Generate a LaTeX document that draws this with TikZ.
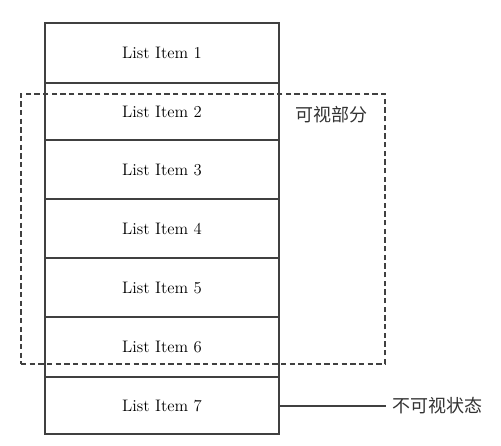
\documentclass[tikz,border=0pt]{standalone}
\usepackage{fontspec}
\newfontfamily\cjk{Noto Sans CJK SC}
\usetikzlibrary{positioning}

\begin{document}
\begin{tikzpicture}[
  x=0.75pt, y=-0.75pt,
  item/.style={rectangle, draw=black!75, line width=1.1pt, minimum width=175.5pt, align=center, font=\fontsize{12.5}{14}\selectfont, inner sep=0pt},
  view/.style={rectangle, draw=black!75, dashed, dash pattern=on 4pt off 2.5pt, line width=0.8pt, minimum width=273pt, minimum height=202.5pt, inner sep=0pt},
  note/.style={font=\cjk\fontsize{13.5}{15}\selectfont, text=black!80, inner sep=4.5pt},
  link/.style={draw=black!75, line width=0.8pt},
]
  \useasboundingbox (0,0) rectangle (501,446);

  % list rows
  \node[item, minimum height=45pt] (item1) at (162,53) {List Item 1};
  \node[item, minimum height=42.75pt] (item2) at (162,111.5) {List Item 2};
  \node[item, minimum height=44.25pt] (item3) at (162,169.5) {List Item 3};
  \node[item, minimum height=44.25pt] (item4) at (162,228.5) {List Item 4};
  \node[item, minimum height=44.25pt] (item5) at (162,287.5) {List Item 5};
  \node[item, minimum height=45pt] (item6) at (162,347) {List Item 6};
  \node[item, minimum height=42.75pt] (item7) at (162,405.5) {List Item 7};

  % visible window
  \node[view] (window) at (203,229) {};
  \node[note] (visible) at (331,115) {可视部分};

  % hidden row label
  \node[note, anchor=west] (hidden) at (386,406) {不可视状态};
  \draw[link] (item7.east |- hidden.west) -- (hidden.west);
\end{tikzpicture}
\end{document}
